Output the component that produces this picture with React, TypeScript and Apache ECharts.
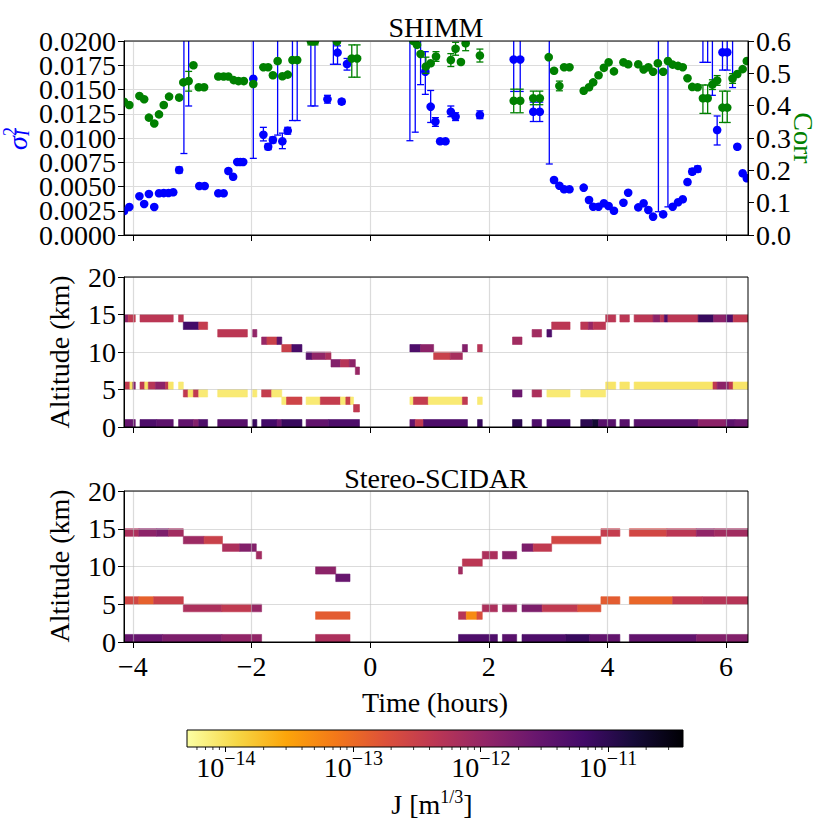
import React, { useEffect, useRef } from "react";
import * as echarts from "echarts";

const FONT = "Liberation Serif";
const FS = 28;

// ---- axes definitions ----
const TIME_MIN = -4.15;
const TIME_MAX = 6.37;
const TIME_TICKS = [-4, -2, 0, 2, 4, 6];
const SIGMA_TICKS = [0, 0.0025, 0.005, 0.0075, 0.01, 0.0125, 0.015, 0.0175, 0.02];
const LOGJ_MIN = -14.3;
const LOGJ_MAX = -10.41;
const COLORBAR_TICKS = [-14, -13, -12, -11];
const COLORBAR_DECADES = [-15, -14, -13, -12, -11];
const MINOR_MULT = [2, 3, 4, 5, 6, 7, 8, 9];
const LAYER_THICKNESS = 1; // km

// ---- SHIMM sigma_I^2 : [time h, value, low, high] ----
const shimmSigma = [
  [-4.15, 0.00247, 0.0024, 0.00255], [-4.06, 0.00289, 0.00282, 0.00296], [-3.89, 0.004, 0.00392, 0.00408],
  [-3.81, 0.0032, 0.00312, 0.00328], [-3.73, 0.00423, 0.00415, 0.00431], [-3.64, 0.00289, 0.00281, 0.00297],
  [-3.56, 0.0043, 0.00422, 0.00438], [-3.48, 0.00432, 0.00424, 0.0044], [-3.4, 0.00433, 0.00425, 0.00441],
  [-3.32, 0.0044, 0.00432, 0.00448], [-3.22, 0.0067, 0.0064, 0.007], [-3.14, 0.025, 0.0084, 0.04],
  [-3.06, 0.024, 0.0133, 0.035], [-2.88, 0.00505, 0.00497, 0.00513], [-2.79, 0.00505, 0.00497, 0.00513],
  [-2.56, 0.0043, 0.00422, 0.00438], [-2.47, 0.0043, 0.00422, 0.00438], [-2.39, 0.0066, 0.0064, 0.0068],
  [-2.31, 0.006, 0.00592, 0.00608], [-2.24, 0.00753, 0.00745, 0.00761], [-2.19, 0.00753, 0.00745, 0.00761],
  [-2.14, 0.00753, 0.00745, 0.00761], [-1.97, 0.0161, 0.0079, 0.03], [-1.8, 0.01034, 0.0097, 0.0111],
  [-1.72, 0.0091, 0.0088, 0.0094], [-1.64, 0.0098, 0.0095, 0.0101], [-1.56, 0.025, 0.0103, 0.04],
  [-1.48, 0.00966, 0.0089, 0.0105], [-1.39, 0.01075, 0.0104, 0.0111], [-1.31, 0.025, 0.0118, 0.04],
  [-1.23, 0.025, 0.0118, 0.04], [-1.0, 0.025, 0.0133, 0.04], [-0.93, 0.025, 0.0133, 0.04],
  [-0.72, 0.014, 0.0136, 0.0144], [-0.62, 0.025, 0.0176, 0.04], [-0.55, 0.0188, 0.0176, 0.0195],
  [-0.48, 0.01375, 0.0135, 0.014], [-0.39, 0.01763, 0.017, 0.0182],
  [0.67, 0.025, 0.00972, 0.04], [0.76, 0.025, 0.0106, 0.04], [0.85, 0.025, 0.0155, 0.04],
  [0.93, 0.01684, 0.0145, 0.0189], [1.02, 0.01323, 0.0116, 0.0149], [1.1, 0.01168, 0.0112, 0.0121],
  [1.18, 0.00966, 0.00958, 0.00974], [1.27, 0.00966, 0.00958, 0.00974], [1.36, 0.0127, 0.0122, 0.0133],
  [1.44, 0.0122, 0.0118, 0.0126], [1.85, 0.01237, 0.012, 0.0128], [2.42, 0.0181, 0.0148, 0.03],
  [2.53, 0.0181, 0.0148, 0.03], [2.75, 0.0127, 0.0117, 0.0137], [2.86, 0.0127, 0.0117, 0.0137],
  [3.02, 0.025, 0.00732, 0.04], [3.1, 0.00567, 0.00559, 0.00575], [3.19, 0.00508, 0.005, 0.00516],
  [3.27, 0.00471, 0.00463, 0.00479], [3.36, 0.00471, 0.00463, 0.00479], [3.6, 0.00488, 0.0048, 0.00496],
  [3.69, 0.00361, 0.00353, 0.00369], [3.76, 0.00292, 0.00284, 0.003], [3.85, 0.00292, 0.00284, 0.003],
  [3.94, 0.00327, 0.00319, 0.00335], [4.02, 0.00299, 0.00291, 0.00307], [4.11, 0.0025, 0.00242, 0.00258],
  [4.27, 0.00333, 0.00325, 0.00341], [4.35, 0.00436, 0.00428, 0.00444], [4.52, 0.00285, 0.00277, 0.00293],
  [4.61, 0.00327, 0.00319, 0.00335], [4.69, 0.00258, 0.0025, 0.00266], [4.77, 0.00189, 0.00181, 0.00197],
  [4.86, 0.025, 0.0024, 0.04], [4.94, 0.00213, 0.00205, 0.00221], [5.02, 0.025, 0.0029, 0.04],
  [5.1, 0.00292, 0.00284, 0.003], [5.19, 0.00337, 0.00329, 0.00345], [5.27, 0.00368, 0.0036, 0.00376],
  [5.35, 0.00546, 0.00538, 0.00554], [5.43, 0.00653, 0.00625, 0.00685], [5.52, 0.0068, 0.0065, 0.0071],
  [5.61, 0.025, 0.0178, 0.04], [5.69, 0.025, 0.0178, 0.04], [5.77, 0.025, 0.0144, 0.04],
  [5.85, 0.01082, 0.00928, 0.01227], [5.94, 0.01883, 0.017, 0.03], [6.02, 0.01883, 0.017, 0.03],
  [6.11, 0.025, 0.0152, 0.04], [6.19, 0.0091, 0.00902, 0.00918], [6.28, 0.00636, 0.00628, 0.00644],
  [6.35, 0.00585, 0.00577, 0.00593],
];

// ---- SHIMM Corr : [time h, value, low, high] ----
const shimmCorr = [
  [-4.15, 0.412, 0.408, 0.416], [-4.06, 0.402, 0.398, 0.406], [-3.89, 0.43, 0.426, 0.434], [-3.81, 0.42, 0.416, 0.424],
  [-3.73, 0.363, 0.359, 0.367], [-3.64, 0.345, 0.341, 0.349], [-3.56, 0.373, 0.369, 0.377], [-3.48, 0.402, 0.398, 0.406],
  [-3.39, 0.428, 0.424, 0.432], [-3.22, 0.425, 0.421, 0.429], [-3.15, 0.472, 0.468, 0.476], [-3.06, 0.476, 0.445, 0.506],
  [-2.98, 0.525, 0.521, 0.529], [-2.89, 0.457, 0.453, 0.461], [-2.8, 0.457, 0.453, 0.461], [-2.56, 0.49, 0.486, 0.494],
  [-2.47, 0.49, 0.486, 0.494], [-2.39, 0.49, 0.486, 0.494], [-2.3, 0.479, 0.475, 0.483], [-2.22, 0.476, 0.472, 0.48],
  [-2.13, 0.476, 0.472, 0.48], [-1.97, 0.467, 0.463, 0.471], [-1.8, 0.519, 0.515, 0.523], [-1.72, 0.519, 0.515, 0.523],
  [-1.64, 0.494, 0.49, 0.498], [-1.56, 0.538, 0.534, 0.542], [-1.48, 0.491, 0.487, 0.495], [-1.39, 0.496, 0.492, 0.5],
  [-1.31, 0.541, 0.537, 0.545], [-1.23, 0.541, 0.537, 0.545], [-1.0, 0.6, 0.588, 0.62], [-0.93, 0.6, 0.588, 0.62],
  [-0.56, 0.598, 0.594, 0.602], [-0.31, 0.546, 0.488, 0.588], [-0.22, 0.546, 0.488, 0.588],
  [0.73, 0.6, 0.596, 0.604], [0.79, 0.588, 0.584, 0.592], [0.85, 0.56, 0.556, 0.564], [0.94, 0.521, 0.5, 0.55],
  [1.02, 0.531, 0.527, 0.535], [1.11, 0.552, 0.537, 0.567], [1.36, 0.541, 0.521, 0.561], [1.44, 0.576, 0.556, 0.596],
  [1.53, 0.535, 0.531, 0.539], [1.61, 0.593, 0.57, 0.62], [1.85, 0.555, 0.535, 0.575], [2.42, 0.415, 0.378, 0.451],
  [2.53, 0.415, 0.378, 0.451], [2.75, 0.423, 0.403, 0.445], [2.86, 0.423, 0.403, 0.445], [3.01, 0.55, 0.546, 0.554],
  [3.1, 0.508, 0.504, 0.512], [3.19, 0.461, 0.446, 0.476], [3.27, 0.519, 0.515, 0.523], [3.36, 0.519, 0.515, 0.523],
  [3.6, 0.446, 0.442, 0.45], [3.69, 0.457, 0.453, 0.461], [3.76, 0.472, 0.468, 0.476], [3.85, 0.494, 0.49, 0.498],
  [3.94, 0.517, 0.513, 0.521], [4.02, 0.534, 0.53, 0.538], [4.11, 0.506, 0.502, 0.51], [4.27, 0.534, 0.53, 0.538],
  [4.35, 0.528, 0.524, 0.532], [4.52, 0.528, 0.524, 0.532], [4.61, 0.512, 0.508, 0.516], [4.69, 0.519, 0.515, 0.523],
  [4.77, 0.505, 0.501, 0.509], [4.85, 0.531, 0.527, 0.535], [4.94, 0.505, 0.501, 0.509], [5.02, 0.538, 0.534, 0.542],
  [5.1, 0.527, 0.523, 0.531], [5.19, 0.523, 0.519, 0.527], [5.27, 0.519, 0.515, 0.523], [5.35, 0.485, 0.481, 0.489],
  [5.43, 0.458, 0.454, 0.462], [5.52, 0.457, 0.453, 0.461], [5.61, 0.423, 0.376, 0.464], [5.69, 0.423, 0.376, 0.464],
  [5.77, 0.465, 0.45, 0.48], [5.85, 0.478, 0.463, 0.493], [5.94, 0.394, 0.348, 0.445], [6.02, 0.394, 0.348, 0.445],
  [6.11, 0.484, 0.469, 0.499], [6.19, 0.498, 0.494, 0.502], [6.28, 0.513, 0.509, 0.517], [6.35, 0.538, 0.534, 0.542],
];

// ---- turbulence layers : [start h, end h, layer bottom km, log10 J] ----
const shimmLayers = [
  [-4.15, -4.08, 14, -11.9], [-4.08, -3.96, 14, -12.4], [-3.88, -3.32, 14, -12.35], [-3.23, -3.15, 14, -12.35],
  [-3.15, -2.89, 13, -11.2], [-2.89, -2.74, 13, -12.45], [-2.57, -2.07, 12, -12.35], [-1.98, -1.91, 12, -11.95],
  [-1.83, -1.74, 11, -12.0], [-1.74, -1.57, 11, -12.5], [-1.57, -1.49, 11, -11.45],
  [-1.49, -1.32, 10, -12.5], [-1.32, -1.15, 10, -11.25],
  [-1.08, -0.98, 9, -11.4], [-0.98, -0.75, 9, -11.95], [-0.75, -0.66, 9, -12.2],
  [-0.66, -0.5, 8, -11.8], [-0.5, -0.35, 8, -12.3], [-0.35, -0.25, 8, -11.9], [-0.25, -0.18, 7, -12.0],
  [-4.15, -4.05, 5, -12.4], [-4.05, -4.0, 5, -14.05], [-4.0, -3.96, 5, -11.8],
  [-3.88, -3.8, 5, -12.4], [-3.8, -3.74, 5, -14.05], [-3.74, -3.62, 5, -12.3], [-3.62, -3.45, 5, -11.9],
  [-3.45, -3.4, 5, -12.4], [-3.4, -3.32, 5, -14.05], [-3.23, -3.15, 5, -14.1],
  [-3.15, -3.07, 4, -12.4], [-3.07, -2.98, 4, -14.05], [-2.98, -2.89, 4, -12.4], [-2.89, -2.74, 4, -14.1],
  [-2.57, -2.07, 4, -14.1], [-1.98, -1.91, 4, -14.1], [-1.83, -1.66, 4, -12.45], [-1.66, -1.49, 4, -14.1],
  [-1.49, -1.41, 3, -14.1], [-1.41, -1.15, 3, -12.55], [-1.08, -0.84, 3, -14.1], [-0.84, -0.5, 3, -12.45],
  [-0.5, -0.41, 3, -14.1], [-0.41, -0.33, 3, -12.5], [-0.33, -0.28, 3, -14.1], [-0.28, -0.18, 2, -12.4],
  [-4.15, -3.96, 0, -11.55], [-3.88, -3.6, 0, -11.3], [-3.6, -3.32, 0, -11.45], [-3.23, -2.98, 0, -11.5],
  [-2.98, -2.89, 0, -11.8], [-2.89, -2.74, 0, -11.3], [-2.57, -2.07, 0, -11.4], [-1.98, -1.91, 0, -11.1],
  [-1.83, -1.57, 0, -11.2], [-1.57, -1.49, 0, -11.6], [-1.49, -1.15, 0, -11.1], [-1.08, -0.7, 0, -11.5],
  [-0.7, -0.18, 0, -11.3],
  [0.67, 0.85, 10, -11.3], [0.85, 1.07, 10, -11.9], [1.07, 1.35, 9, -12.5], [1.35, 1.555, 9, -12.15],
  [1.555, 1.64, 10, -11.8], [1.81, 1.89, 10, -12.3], [2.4, 2.56, 11, -12.1], [2.73, 2.89, 12, -12.1],
  [2.98, 3.06, 12, -11.3], [3.06, 3.37, 13, -12.35], [3.55, 3.68, 13, -12.35], [3.68, 3.76, 13, -12.0],
  [3.76, 3.97, 13, -12.35], [3.97, 4.14, 14, -12.35], [4.21, 4.37, 14, -12.35], [4.45, 4.77, 14, -12.35],
  [4.77, 4.89, 14, -11.9], [4.89, 4.96, 14, -12.35], [4.96, 5.02, 14, -11.3], [5.02, 5.53, 14, -12.35],
  [5.53, 5.79, 14, -11.1], [5.79, 6.0, 14, -11.9], [6.0, 6.12, 14, -11.3], [6.12, 6.37, 14, -12.4],
  [0.67, 0.73, 3, -14.1], [0.73, 0.98, 3, -12.45], [0.98, 1.555, 3, -14.1], [1.555, 1.64, 3, -12.4],
  [1.81, 1.89, 3, -14.1], [2.4, 2.56, 4, -11.6], [2.73, 2.89, 4, -12.2], [2.98, 3.37, 4, -14.1],
  [3.55, 3.97, 4, -14.1], [3.97, 4.14, 5, -14.05], [4.21, 4.37, 5, -14.05], [4.45, 5.78, 5, -14.05],
  [5.78, 5.85, 5, -12.4], [5.85, 6.05, 5, -11.9], [6.05, 6.12, 5, -12.4], [6.12, 6.37, 5, -14.05],
  [0.67, 0.76, 0, -11.5], [0.76, 0.9, 0, -12.4], [0.9, 1.64, 0, -11.3], [1.81, 1.89, 0, -11.1],
  [2.4, 2.56, 0, -11.0], [2.73, 2.89, 0, -11.3], [2.98, 3.37, 0, -11.2], [3.55, 3.75, 0, -11.0],
  [3.75, 3.85, 0, -10.75], [3.85, 4.14, 0, -11.4], [4.21, 4.37, 0, -11.4], [4.45, 5.53, 0, -11.4],
  [5.53, 6.0, 0, -11.9], [6.0, 6.15, 0, -11.45], [6.15, 6.37, 0, -11.6],
];

const scidarLayers = [
  [-4.15, -3.9, 14, -12.2], [-3.9, -3.6, 14, -11.9], [-3.6, -3.4, 14, -11.75], [-3.4, -3.15, 14, -12.1],
  [-3.15, -2.8, 13, -12.05], [-2.8, -2.49, 13, -12.5], [-2.49, -2.2, 12, -12.2], [-2.2, -1.92, 12, -11.8],
  [-1.92, -1.83, 11, -12.1],
  [-4.15, -3.9, 5, -12.6], [-3.9, -3.65, 5, -12.9], [-3.65, -3.15, 5, -12.5],
  [-3.15, -2.5, 4, -12.2], [-2.5, -2.0, 4, -12.4], [-2.0, -1.83, 4, -12.0],
  [-4.15, -3.5, 0, -11.55], [-3.5, -2.5, 0, -11.75], [-2.5, -1.83, 0, -11.95],
  [-0.92, -0.58, 9, -11.9], [-0.58, -0.34, 8, -11.55], [-0.92, -0.34, 3, -12.85], [-0.92, -0.34, 0, -12.2],
  [1.49, 1.555, 9, -12.1], [1.555, 1.89, 10, -12.35], [1.89, 2.145, 11, -12.2], [2.23, 2.47, 11, -11.85],
  [2.56, 2.75, 12, -11.75], [2.75, 3.06, 12, -12.4], [3.06, 3.89, 13, -12.6], [3.89, 4.21, 14, -12.45],
  [4.37, 5.0, 14, -12.6], [5.0, 5.5, 14, -12.35], [5.5, 5.8, 14, -11.95], [5.8, 6.37, 14, -12.1],
  [1.49, 1.62, 3, -12.3], [1.62, 1.8, 3, -13.3], [1.8, 1.89, 3, -12.7], [1.89, 2.145, 4, -12.2],
  [2.23, 2.47, 4, -12.0], [2.56, 2.9, 4, -11.75], [2.9, 3.5, 4, -12.4], [3.5, 3.89, 4, -12.75],
  [3.89, 4.21, 5, -12.85], [4.37, 5.1, 5, -12.95], [5.1, 5.6, 5, -12.4], [5.6, 6.37, 5, -12.3],
  [1.49, 2.145, 0, -11.3], [2.23, 2.47, 0, -11.4], [2.56, 3.3, 0, -11.3], [3.3, 3.7, 0, -11.1],
  [3.7, 4.21, 0, -11.5], [4.37, 5.5, 0, -11.5], [5.5, 6.37, 0, -11.8],
];

// ---- inferno colormap ----
const INFERNO = ["#000004", "#160b39", "#420a68", "#6a176e", "#932667", "#bc3754", "#dd513a", "#f37819", "#fca50a", "#f6d746", "#fcffa4"];

function hexRgb(h: string) {
  return [parseInt(h.slice(1, 3), 16), parseInt(h.slice(3, 5), 16), parseInt(h.slice(5, 7), 16)];
}
function infernoAt(p: number) {
  const q = Math.max(0, Math.min(1, p)) * 10;
  const i = Math.min(9, Math.floor(q));
  const f = q - i;
  const a = hexRgb(INFERNO[i]);
  const b = hexRgb(INFERNO[i + 1]);
  const c = a.map((v, k) => Math.round(v + (b[k] - v) * f));
  return `rgb(${c[0]},${c[1]},${c[2]})`;
}
function jColor(logJ: number) {
  const f = (logJ - LOGJ_MIN) / (LOGJ_MAX - LOGJ_MIN);
  return infernoAt(1 - f);
}

// ---- layout ----
const GRIDS = [
  { left: 124, top: 41, width: 624, height: 194 },
  { left: 124, top: 277, width: 624, height: 150 },
  { left: 124, top: 491, width: 624, height: 151 },
];
const CB = { left: 187, top: 730, width: 496, height: 17 };
const CAP = 3.5;

const minus = (v: number) => (v < 0 ? "\u2212" + Math.abs(v) : String(v));

function errRender(color: string) {
  return (params: any, api: any) => {
    const t = api.value(0);
    const pv = api.coord([t, api.value(1)]);
    const pl = api.coord([t, api.value(2)]);
    const ph = api.coord([t, api.value(3)]);
    const s = { stroke: color, lineWidth: 1.3 };
    return {
      type: "group",
      children: [
        { type: "line", shape: { x1: pl[0], y1: pl[1], x2: ph[0], y2: ph[1] }, style: s },
        { type: "line", shape: { x1: pl[0] - CAP, y1: pl[1], x2: pl[0] + CAP, y2: pl[1] }, style: s },
        { type: "line", shape: { x1: ph[0] - CAP, y1: ph[1], x2: ph[0] + CAP, y2: ph[1] }, style: s },
        { type: "circle", shape: { cx: pv[0], cy: pv[1], r: 4.3 }, style: { fill: color } },
      ],
    };
  };
}

function layerRender(params: any, api: any) {
  const lj = api.value(3);
  const a = api.coord([api.value(0), api.value(2) + LAYER_THICKNESS]);
  const b = api.coord([api.value(1), api.value(2)]);
  const col = jColor(lj);
  return {
    type: "rect",
    shape: { x: a[0], y: a[1], width: b[0] - a[0], height: b[1] - a[1] },
    style: { fill: col, stroke: col, lineWidth: 0.6 },
  };
}

const labelBase = { color: "#000", fontFamily: FONT, fontSize: FS };

function timeAxis(i: number) {
  return {
    type: "value",
    gridIndex: i,
    min: TIME_MIN,
    max: TIME_MAX,
    z: i === 0 ? 0 : 5,
    axisLine: { show: true, onZero: false, lineStyle: { color: "#000", width: 1 } },
    axisTick: { show: true, customValues: TIME_TICKS, length: 6, lineStyle: { color: "#000", width: 1 } },
    axisLabel: {
      ...labelBase,
      show: i === 2,
      customValues: TIME_TICKS,
      margin: 10,
      formatter: (v: number) => minus(v),
    },
    splitLine: { show: true, lineStyle: { color: i === 0 ? "#dcdcdc" : "rgba(190,190,190,0.55)", width: 1.2 } },
  };
}

function altAxis(i: number) {
  return {
    type: "value",
    gridIndex: i,
    min: 0,
    max: 20,
    interval: 5,
    z: 5,
    axisLine: { show: true, onZero: false, lineStyle: { color: "#000", width: 1 } },
    axisTick: { show: true, length: 6, lineStyle: { color: "#000", width: 1 } },
    axisLabel: { ...labelBase, margin: 8, showMinLabel: true, showMaxLabel: true },
    splitLine: { show: true, lineStyle: { color: "rgba(190,190,190,0.55)", width: 1.2 } },
  };
}

const minorTicks = COLORBAR_DECADES.flatMap((d) => MINOR_MULT.map((m) => d + Math.log10(m))).filter(
  (v) => v > LOGJ_MIN && v < LOGJ_MAX
);

function textEl(text: string, x: number, y: number, opts: any = {}) {
  return {
    type: "text",
    x,
    y,
    z: 100,
    rotation: opts.rotation || 0,
    style: {
      text,
      fill: opts.fill || "#000",
      fontFamily: FONT,
      fontSize: opts.size || FS,
      fontStyle: opts.italic ? "italic" : "normal",
      align: opts.align || "center",
      verticalAlign: "middle",
    },
  };
}

export default function App() {
  const ref = useRef<HTMLDivElement>(null);
  useEffect(() => {
    document.body.style.margin = "0";
    const chart = echarts.init(ref.current!, null, { renderer: "svg" });
    const gradStops = INFERNO.map((_, i) => ({ offset: i / 10, color: INFERNO[10 - i] }));

    const outlines = GRIDS.map((g) => ({
      type: "rect",
      z: 100,
      shape: { x: g.left, y: g.top, width: g.width, height: g.height },
      style: { fill: "none", stroke: "#000", lineWidth: 1 },
    }));

    const option: any = {
      animation: false,
      backgroundColor: "#fff",
      textStyle: { fontFamily: FONT },
      grid: [...GRIDS, CB].map((g) => ({ ...g, containLabel: false })),
      xAxis: [
        timeAxis(0),
        timeAxis(1),
        timeAxis(2),
        {
          type: "value",
          gridIndex: 3,
          min: LOGJ_MIN,
          max: LOGJ_MAX,
          axisLine: { show: false },
          axisTick: { show: true, customValues: COLORBAR_TICKS, length: 5, lineStyle: { color: "#000", width: 1 } },
          axisLabel: { show: false },
          splitLine: { show: false },
        },
      ],
      yAxis: [
        {
          type: "value",
          gridIndex: 0,
          min: 0,
          max: 0.02,
          interval: 0.0025,
          axisLine: { show: true, onZero: false, lineStyle: { color: "#000", width: 1 } },
          axisTick: { show: true, length: 6, lineStyle: { color: "#000", width: 1 } },
          axisLabel: { show: false },
          splitLine: { show: true, lineStyle: { color: "#dcdcdc", width: 1.2 } },
        },
        {
          type: "value",
          gridIndex: 0,
          position: "right",
          min: 0,
          max: 0.6,
          interval: 0.1,
          axisLine: { show: true, onZero: false, lineStyle: { color: "#000", width: 1 } },
          axisTick: { show: true, length: 6, lineStyle: { color: "#000", width: 1 } },
          axisLabel: {
            ...labelBase,
            margin: 8,
            showMinLabel: true,
            showMaxLabel: true,
            formatter: (v: number) => v.toFixed(1),
          },
          splitLine: { show: false },
        },
        altAxis(1),
        altAxis(2),
        { type: "value", gridIndex: 3, min: 0, max: 1, show: false },
      ],
      series: [
        { type: "custom", name: "sigma", xAxisIndex: 0, yAxisIndex: 0, clip: true, data: shimmSigma, renderItem: errRender("#0000ff") },
        { type: "custom", name: "corr", xAxisIndex: 0, yAxisIndex: 1, clip: true, data: shimmCorr, renderItem: errRender("#008000") },
        {
          type: "custom",
          name: "sigmaTickLabels",
          xAxisIndex: 0,
          yAxisIndex: 0,
          data: SIGMA_TICKS.map((v) => [TIME_MIN, v]),
          renderItem: (p: any, api: any) => {
            const a = api.coord([api.value(0), api.value(1)]);
            return {
              type: "text",
              x: a[0] - 8,
              y: a[1],
              style: { text: api.value(1).toFixed(4), fill: "#000", fontFamily: FONT, fontSize: FS, align: "right", verticalAlign: "middle" },
            };
          },
        },
        { type: "custom", name: "shimm", xAxisIndex: 1, yAxisIndex: 2, clip: true, data: shimmLayers, renderItem: layerRender },
        { type: "custom", name: "scidar", xAxisIndex: 2, yAxisIndex: 3, clip: true, data: scidarLayers, renderItem: layerRender },
        {
          type: "custom",
          name: "colorbar",
          xAxisIndex: 3,
          yAxisIndex: 4,
          data: [[LOGJ_MIN, LOGJ_MAX]],
          renderItem: (p: any, api: any) => {
            const a = api.coord([api.value(0), 0]);
            const b = api.coord([api.value(1), 1]);
            return {
              type: "rect",
              shape: { x: a[0], y: b[1], width: b[0] - a[0], height: a[1] - b[1] },
              style: { fill: new echarts.graphic.LinearGradient(0, 0, 1, 0, gradStops), stroke: "#000", lineWidth: 1 },
            };
          },
        },
        {
          type: "custom",
          name: "minorTicks",
          xAxisIndex: 3,
          yAxisIndex: 4,
          data: minorTicks.map((v) => [v]),
          renderItem: (p: any, api: any) => {
            const a = api.coord([api.value(0), 0]);
            return { type: "line", shape: { x1: a[0], y1: a[1], x2: a[0], y2: a[1] + 3 }, style: { stroke: "#000", lineWidth: 0.8 } };
          },
        },
        {
          type: "custom",
          name: "cbLabels",
          xAxisIndex: 3,
          yAxisIndex: 4,
          data: COLORBAR_TICKS.map((v) => [v]),
          renderItem: (p: any, api: any) => {
            const v = api.value(0);
            const a = api.coord([v, 0]);
            return {
              type: "group",
              children: [
                { type: "text", x: a[0] - 1, y: a[1] + 20, style: { text: "10", fill: "#000", fontFamily: FONT, fontSize: FS, align: "right", verticalAlign: "middle" } },
                { type: "text", x: a[0] - 1, y: a[1] + 11, style: { text: minus(v), fill: "#000", fontFamily: FONT, fontSize: 20, align: "left", verticalAlign: "middle" } },
              ],
            };
          },
        },
      ],
      graphic: [
        ...outlines,
        textEl("SHIMM", 436, 27),
        textEl("Stereo-SCIDAR", 436, 478),
        textEl("Altitude (km)", 59, 352, { rotation: Math.PI / 2 }),
        textEl("Altitude (km)", 59, 566, { rotation: Math.PI / 2 }),
        textEl("Time (hours)", 435, 702),
        textEl("Corr", 803, 138, { rotation: -Math.PI / 2, fill: "#008000" }),
        {
          type: "group",
          x: 17,
          y: 139,
          rotation: Math.PI / 2,
          z: 100,
          children: [
            { type: "text", x: -11, y: 0, style: { text: "σ", fill: "#0000ff", fontFamily: FONT, fontSize: FS, fontStyle: "italic", align: "left", verticalAlign: "middle" } },
            { type: "text", x: 3, y: -7, style: { text: "2", fill: "#0000ff", fontFamily: FONT, fontSize: 18, align: "left", verticalAlign: "middle" } },
            { type: "text", x: 3, y: 6, style: { text: "I", fill: "#0000ff", fontFamily: FONT, fontSize: 18, fontStyle: "italic", align: "left", verticalAlign: "middle" } },
          ],
        },
        {
          type: "text",
          x: 432,
          y: 803,
          z: 100,
          style: {
            text: "{a|J [m}{s|1/3}{a|]}",
            align: "center",
            verticalAlign: "middle",
            rich: {
              a: { fontFamily: FONT, fontSize: FS, fill: "#000", color: "#000", verticalAlign: "bottom", lineHeight: 30 },
              s: { fontFamily: FONT, fontSize: 18, fill: "#000", color: "#000", verticalAlign: "top", lineHeight: 18 },
            },
          },
        },
      ],
    };
    chart.setOption(option);
    return () => chart.dispose();
  }, []);
  return <div ref={ref} style={{ width: 830, height: 830 }} />;
}
